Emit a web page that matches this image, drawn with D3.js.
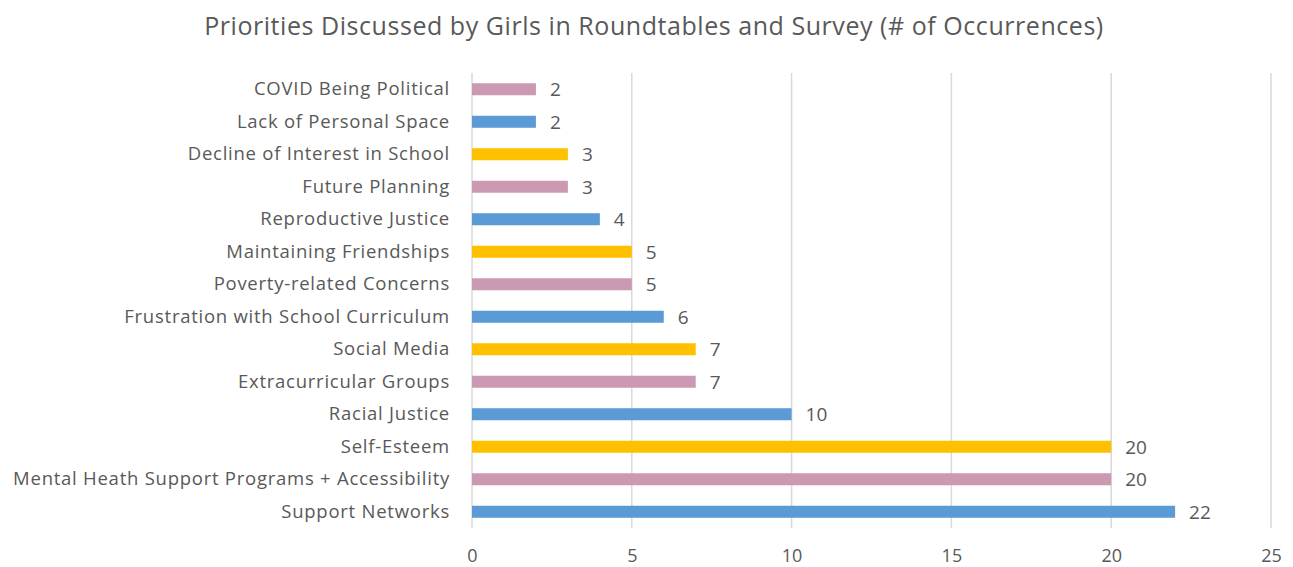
<!DOCTYPE html>
<html>
<head>
<meta charset="utf-8">
<script src="https://cdn.jsdelivr.net/npm/d3@7"></script>
<style>
  body { margin: 0; background: #fff; }
  text { font-family: "Open Sans", sans-serif; fill: #595959; }
</style>
</head>
<body>
<div id="chart"></div>
<script>
const categories = [
  'COVID Being Political',
  'Lack of Personal Space',
  'Decline of Interest in School',
  'Future Planning',
  'Reproductive Justice',
  'Maintaining Friendships',
  'Poverty-related Concerns',
  'Frustration with School Curriculum',
  'Social Media',
  'Extracurricular Groups',
  'Racial Justice',
  'Self-Esteem',
  'Mental Heath Support Programs + Accessibility',
  'Support Networks'
];
const values = [2, 2, 3, 3, 4, 5, 5, 6, 7, 7, 10, 20, 20, 22];
const colorGroup = ['pink', 'blue', 'yellow', 'pink', 'blue', 'yellow', 'pink', 'blue', 'yellow', 'pink', 'blue', 'yellow', 'pink', 'blue'];
const xTicks = [0, 5, 10, 15, 20, 25];

const palette = { pink: '#cc99b3', blue: '#5b9bd5', yellow: '#ffc000' };

const W = 1293, H = 567;
const margin = { top: 73, right: 22, bottom: 39, left: 472 };
const height = H - margin.top - margin.bottom;

const svg = d3.select('#chart').append('svg')
  .attr('width', W)
  .attr('height', H);

svg.append('text')
  .attr('x', 654)
  .attr('y', 35)
  .attr('text-anchor', 'middle')
  .style('font-size', '25px')
  .style('letter-spacing', '0.55px')
  .text('Priorities Discussed by Girls in Roundtables and Survey (# of Occurrences)');

const g = svg.append('g')
  .attr('transform', `translate(${margin.left}, ${margin.top})`);

const x = d3.scaleLinear().domain([0, 25]).range([0, 799]);
const y = d3.scaleBand().domain(categories).range([0, height]).paddingInner(0.63).paddingOuter(0.315);

// gridlines
g.selectAll('.grid')
  .data(xTicks)
  .enter().append('line')
  .attr('x1', d => x(d))
  .attr('x2', d => x(d))
  .attr('y1', 0)
  .attr('y2', height)
  .attr('stroke', '#d9d9d9')
  .attr('stroke-width', 1.5);

// x tick labels
const xAxis = g.append('g')
  .attr('transform', `translate(0, ${height})`)
  .call(d3.axisBottom(x).tickValues(xTicks).tickSize(0).tickPadding(21));
xAxis.select('.domain').remove();
xAxis.selectAll('text').style('font-size', '18px').attr('fill', '#595959');

// y labels
const yAxis = g.append('g')
  .call(d3.axisLeft(y).tickSize(0).tickPadding(22));
yAxis.select('.domain').remove();
yAxis.selectAll('text')
  .style('font-size', '18.5px')
  .style('letter-spacing', '0.75px')
  .attr('fill', '#595959');

g.selectAll('.bar')
  .data(categories)
  .enter().append('rect')
  .attr('class', 'bar')
  .attr('x', x(0))
  .attr('y', d => y(d))
  .attr('width', (d, i) => x(values[i]) - x(0))
  .attr('height', y.bandwidth())
  .attr('fill', (d, i) => palette[colorGroup[i]]);

g.selectAll('.val')
  .data(categories)
  .enter().append('text')
  .attr('x', (d, i) => x(values[i]) + 14)
  .attr('y', d => y(d) + y.bandwidth() / 2)
  .attr('dy', '0.36em')
  .style('font-size', '19px')
  .text((d, i) => values[i]);
</script>
</body>
</html>
